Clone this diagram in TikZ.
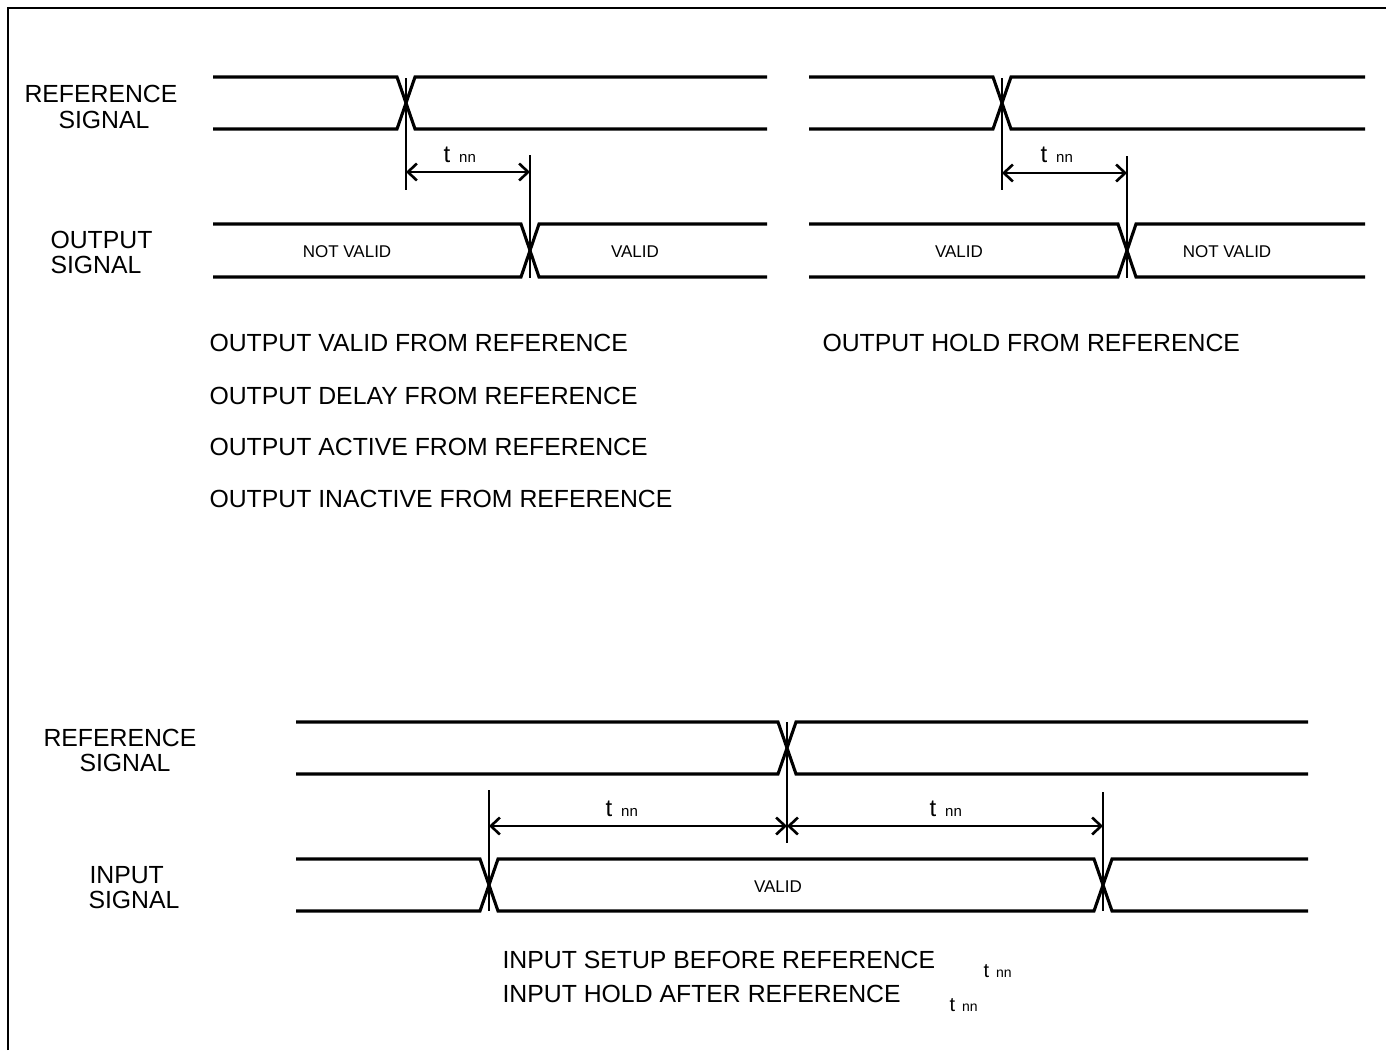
\documentclass[tikz,border=0pt]{standalone}
\usepackage{fontspec}
\setmainfont{Liberation Sans}
\usetikzlibrary{arrows.meta}
\begin{document}
\begin{tikzpicture}[x=1pt,y=-1pt,line width=3pt,
  sig/.style={line width=3.1pt,line join=miter},
  tick/.style={line width=2.8pt},
  dim/.style={line width=2.8pt,{Straight Barb[length=9pt,width=17pt,line width=2.6pt]}-{Straight Barb[length=9pt,width=17pt,line width=2.6pt]}},
  big/.style={inner sep=0pt,anchor=base west,font=\fontsize{24.8}{28}\selectfont},
  small/.style={inner sep=0pt,anchor=base,font=\fontsize{17}{20}\selectfont},
  tlab/.style={inner sep=0pt,anchor=base west,font=\fontsize{24}{28}\selectfont},
  frame/.style={line width=2.2pt}]
\useasboundingbox (0,0) rectangle (1386,1050);
% frame
\draw[frame] (8,1050) -- (8,8) -- (1386,8);

% ---------- top left ----------
\draw[sig] (213,77) -- (397,77) -- (415,129) -- (767,129);
\draw[sig] (213,129) -- (397,129) -- (415,77) -- (767,77);
\draw[sig] (213,224) -- (521,224) -- (539,277) -- (767,277);
\draw[sig] (213,277) -- (521,277) -- (539,224) -- (767,224);
\coordinate (A1t) at (406,78);  \coordinate (A1b) at (406,190);
\coordinate (A2t) at (530,155); \coordinate (A2b) at (530,278);
\coordinate (A1m) at (406,172); \coordinate (A2m) at (530,172);
\draw[tick] (A1t) -- (A1b);
\draw[tick] (A2t) -- (A2b);
\draw[dim] (A1m) -- (A2m);
\node[tlab] (tA) at (442,162) {t\hspace{9pt}{\fontsize{15}{17}\selectfont nn}};
\node[big] (refA1) at (23,102.5) {REFERENCE};
\node[big] (refA2) at (57,128) {SIGNAL};
\node[big] (outA1) at (49,248.5) {OUTPUT};
\node[big] (outA2) at (49,273.5) {SIGNAL};
\node[small] (nvA) at (347,257) {NOT VALID};
\node[small] (vA) at (635,257) {VALID};
\node[big] (l1) at (208,351.5) {OUTPUT VALID FROM REFERENCE};
\node[big] (l2) at (208,404.5) {OUTPUT DELAY FROM REFERENCE};
\node[big] (l3) at (208,455.5) {OUTPUT ACTIVE FROM REFERENCE};
\node[big] (l4) at (208,507.5) {OUTPUT INACTIVE FROM REFERENCE};

% ---------- top right ----------
\draw[sig] (809,77) -- (993,77) -- (1011,129) -- (1365,129);
\draw[sig] (809,129) -- (993,129) -- (1011,77) -- (1365,77);
\draw[sig] (809,224) -- (1118,224) -- (1136,277) -- (1365,277);
\draw[sig] (809,277) -- (1118,277) -- (1136,224) -- (1365,224);
\coordinate (B1t) at (1002,78);  \coordinate (B1b) at (1002,190);
\coordinate (B2t) at (1127,156); \coordinate (B2b) at (1127,278);
\coordinate (B1m) at (1002,173); \coordinate (B2m) at (1127,173);
\draw[tick] (B1t) -- (B1b);
\draw[tick] (B2t) -- (B2b);
\draw[dim] (B1m) -- (B2m);
\node[tlab] (tB) at (1039,162) {t\hspace{9pt}{\fontsize{15}{17}\selectfont nn}};
\node[small] (vB) at (959,257) {VALID};
\node[small] (nvB) at (1227,257) {NOT VALID};
\node[big] (l5) at (821,351.5) {OUTPUT HOLD FROM REFERENCE};

% ---------- bottom ----------
\draw[sig] (296,722) -- (778,722) -- (796,774) -- (1308,774);
\draw[sig] (296,774) -- (778,774) -- (796,722) -- (1308,722);
\draw[sig] (296,859) -- (480,859) -- (498,911) -- (1094,911) -- (1112,859) -- (1308,859);
\draw[sig] (296,911) -- (480,911) -- (498,859) -- (1094,859) -- (1112,911) -- (1308,911);
\coordinate (C0t) at (489,790);  \coordinate (C0b) at (489,911);
\coordinate (C1t) at (787,722);  \coordinate (C1b) at (787,843);
\coordinate (C2t) at (1103,792); \coordinate (C2b) at (1103,911);
\coordinate (C0m) at (489,826);  \coordinate (C1m) at (787,826); \coordinate (C2m) at (1103,826);
\draw[tick] (C0t) -- (C0b);
\draw[tick] (C1t) -- (C1b);
\draw[tick] (C2t) -- (C2b);
\draw[dim] (C0m) -- (C1m);
\draw[dim] (C1m) -- (C2m);
\node[tlab] (tC1) at (604,816) {t\hspace{9pt}{\fontsize{15}{17}\selectfont nn}};
\node[tlab] (tC2) at (928,816) {t\hspace{9pt}{\fontsize{15}{17}\selectfont nn}};
\node[big] (refC1) at (42,746.5) {REFERENCE};
\node[big] (refC2) at (78,771.5) {SIGNAL};
\node[big] (inC1) at (88,883.5) {INPUT};
\node[big] (inC2) at (87,908.5) {SIGNAL};
\node[small] (vC) at (778,892) {VALID};
\node[big] (l6) at (501,968.5) {INPUT SETUP BEFORE REFERENCE};
\node[big] (l7) at (501,1002.5) {INPUT HOLD AFTER REFERENCE};
\node[tlab,font=\fontsize{20}{24}\selectfont] (tD1) at (982,977) {t\hspace{7pt}{\fontsize{14}{16}\selectfont nn}};
\node[tlab,font=\fontsize{20}{24}\selectfont] (tD2) at (948,1011) {t\hspace{7pt}{\fontsize{14}{16}\selectfont nn}};
\end{tikzpicture}
\end{document}
